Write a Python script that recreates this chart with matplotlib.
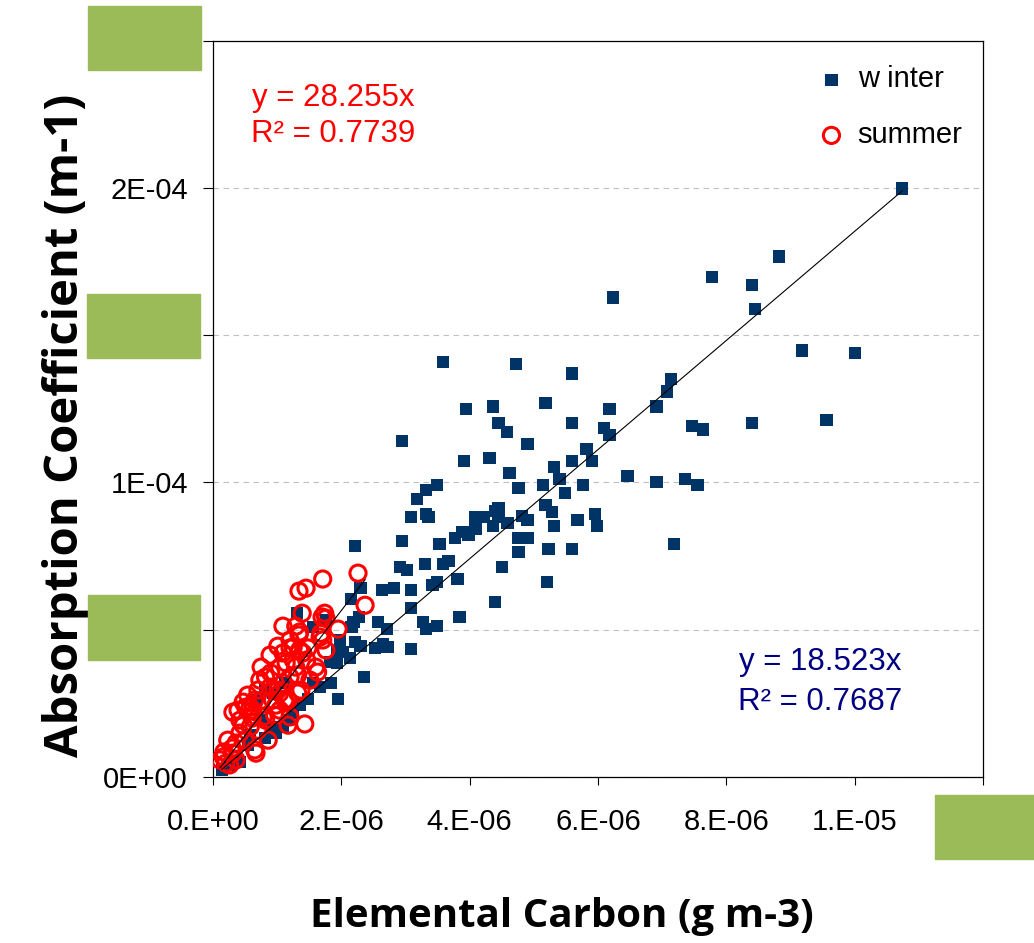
import numpy as np
import matplotlib
matplotlib.use("Agg")
import matplotlib.pyplot as plt
from matplotlib.patches import Rectangle

# values, in units of 1e-6 (x: g m-3, y: m-1)
winter_ec = [10.74, 8.82, 7.78, 8.40, 8.45, 6.23, 9.18, 10.01, 7.14, 7.08,
             6.91, 6.18, 6.09, 6.18, 7.46, 7.64, 8.40, 9.56, 6.46, 6.91,
             7.36, 7.55, 7.18, 3.58, 4.72, 5.59, 3.94, 4.36, 5.18, 4.45,
             4.58, 5.59, 4.90, 5.82, 2.94, 3.91, 4.31, 4.62, 5.31, 5.59,
             5.91, 5.40, 4.76, 5.14, 5.77, 3.49, 3.32, 3.18, 5.49, 3.08,
             3.32, 3.36, 5.18, 5.28, 4.45, 4.40, 4.08, 4.22, 4.45, 4.81,
             4.90, 4.59, 4.36, 4.09, 3.89, 3.98, 3.77, 5.95, 5.68, 5.31,
             5.99, 2.94, 3.53, 4.76, 4.90, 5.23, 5.59, 4.76, 3.30, 3.58,
             3.67, 3.02, 2.91, 4.50, 3.81, 3.49, 3.42, 3.08, 5.21, 4.40,
             3.08, 2.21, 2.63, 2.82, 2.30, 2.15, 2.27, 2.19, 2.57, 2.71,
             2.16, 3.27, 3.32, 3.49, 3.84, 2.21, 2.30, 2.52, 2.65, 2.72,
             3.08, 1.93, 2.02, 2.13, 1.82, 1.93, 2.35, 1.31, 1.56, 1.56,
             1.67, 1.84, 1.95, 1.48, 0.82, 0.93, 1.17, 1.09, 0.98, 0.93,
             1.12, 1.25, 0.67, 0.81, 0.42, 0.26, 0.54, 1.35, 1.76, 1.98,
             0.76, 0.58, 0.14]
winter_abs = [199.8, 176.7, 169.6, 166.9, 158.8, 162.8, 144.8, 143.8, 135.0, 130.9,
              125.8, 124.8, 118.4, 116.0, 119.1, 118.0, 120.1, 121.1, 102.1, 100.1,
              101.1, 99.1, 79.0, 140.8, 140.1, 137.0, 124.8, 125.8, 126.9, 120.1,
              117.0, 120.1, 113.0, 111.3, 114.0, 107.2, 108.2, 103.1, 105.2, 107.2,
              107.2, 101.1, 98.0, 99.1, 99.1, 99.1, 97.4, 94.3, 96.3, 88.2,
              89.2, 88.2, 92.3, 89.9, 91.2, 90.2, 88.2, 88.2, 88.2, 88.5,
              87.2, 86.2, 85.1, 84.1, 83.1, 82.1, 81.1, 89.2, 87.2, 85.1,
              85.1, 80.1, 79.0, 81.1, 81.1, 77.3, 77.3, 76.3, 72.3, 72.3,
              73.3, 70.2, 71.2, 71.2, 67.2, 66.1, 65.1, 63.4, 66.1, 59.4,
              57.3, 78.4, 63.4, 64.1, 64.1, 60.4, 54.3, 52.6, 52.6, 50.2,
              50.9, 52.6, 50.2, 51.2, 54.3, 45.8, 44.4, 43.8, 45.1, 44.1,
              43.4, 42.4, 42.4, 40.4, 39.0, 38.7, 33.9, 55.6, 50.9, 31.9,
              30.5, 31.9, 26.5, 26.5, 29.5, 28.5, 19.3, 17.0, 14.9, 17.0,
              31.9, 21.7, 26.1, 13.2, 5.1, 4.1, 10.9, 24.4, 53.3, 46.5,
              19.3, 14.2, 2.4]

summer_ec = [2.26, 1.71, 1.34, 1.45, 2.37, 1.39, 1.74, 1.70, 1.76, 1.09,
             1.29, 1.35, 1.34, 1.95, 1.67, 1.71, 1.01, 1.20, 1.48, 1.76,
             0.75, 0.90, 1.04, 1.60, 1.63, 0.47, 0.58, 0.31, 1.32, 1.20,
             1.43, 1.17, 0.67, 0.26, 0.11, 1.68, 1.25, 0.82, 1.14, 1.25,
             1.37, 0.51, 0.39, 0.62, 0.58, 0.42, 0.65, 0.31, 0.16, 0.20,
             0.36, 0.78, 0.93, 1.04, 1.09, 0.89, 1.20, 1.29, 1.09, 1.35,
             1.20, 1.40, 0.89, 0.76, 0.70, 0.54, 0.98, 1.12, 0.82, 0.70,
             0.50, 0.30, 0.96, 0.47, 0.23, 0.61, 1.04, 0.86, 1.51, 0.42,
             0.17, 0.36, 1.01, 1.32, 1.46, 1.17, 0.73, 0.65]
summer_abs = [69.2, 67.2, 63.1, 64.1, 58.3, 55.6, 55.6, 54.3, 53.9, 51.2,
              51.2, 49.2, 48.2, 50.2, 47.5, 46.5, 44.4, 43.8, 43.8, 43.1,
              37.3, 35.3, 37.3, 37.3, 35.6, 25.4, 23.7, 22.0, 28.5, 20.4,
              18.0, 17.6, 8.1, 4.1, 5.8, 48.8, 44.1, 33.9, 38.7, 39.7,
              29.5, 23.7, 22.7, 22.7, 17.0, 14.9, 9.2, 8.1, 6.8, 4.7,
              11.5, 20.4, 26.1, 28.5, 31.9, 30.5, 33.9, 37.3, 42.1, 43.1,
              46.5, 42.1, 41.4, 26.1, 29.5, 27.8, 24.4, 26.1, 19.3, 15.9,
              12.5, 9.8, 21.0, 17.6, 12.5, 20.0, 22.7, 12.5, 32.9, 19.3,
              8.5, 5.8, 29.5, 34.6, 39.7, 26.1, 32.9, 26.1]

winter_slope = 18.523
summer_slope = 28.255

x_ticks = [0, 2e-6, 4e-6, 6e-6, 8e-6, 1e-5, 1.2e-5]
x_labels = ["0.E+00", "2.E-06", "4.E-06", "6.E-06", "8.E-06", "1.E-05", ""]
y_ticks = [0, 5e-5, 1e-4, 1.5e-4, 2e-4, 2.5e-4]
y_labels = ["0E+00", "", "1E-04", "", "2E-04", ""]

wx = np.array(winter_ec) * 1e-6
wy = np.array(winter_abs) * 1e-6
sx = np.array(summer_ec) * 1e-6
sy = np.array(summer_abs) * 1e-6

W, H = 1034, 943
fig = plt.figure(figsize=(W / 100, H / 100), dpi=100)
ax = fig.add_axes([213 / W, 1 - 777 / H, 770 / W, 736.5 / H])

ax.scatter(wx, wy, marker="s", s=78, color="#003366", edgecolors="none",
           label="w inter", zorder=3)
ax.scatter(sx, sy, marker="o", s=135, facecolors="none", edgecolors="#FF0000",
           linewidths=2.2, label="summer", zorder=4)

# trendlines through origin
lx = np.array([wx.min(), wx.max()])
ax.plot(lx, winter_slope * lx, color="black", lw=0.8, zorder=5)
lx = np.array([sx.min(), sx.max()])
ax.plot(lx, summer_slope * lx, color="black", lw=0.8, zorder=5)

ax.set_xlim(0, 1.2e-5)
ax.set_ylim(0, 2.5e-4)
ax.set_xticks(x_ticks)
ax.set_xticklabels(x_labels)
ax.set_yticks(y_ticks)
ax.set_yticklabels(y_labels)
ax.tick_params(axis="x", direction="out", length=6, width=0.8, pad=16,
               labelsize=21, colors="black")
ax.tick_params(axis="y", direction="out", length=7, width=0.8, pad=11,
               labelsize=21, colors="black")
for lab in ax.get_xticklabels() + ax.get_yticklabels():
    lab.set_family("Liberation Sans")
ax.yaxis.grid(True, color="#C0C0C0", linestyle=(0, (5, 4)), lw=0.8)
ax.set_axisbelow(True)
for sp in ax.spines.values():
    sp.set_linewidth(0.9)

ax.set_xlabel("Elemental Carbon (g m-3)", fontsize=29, fontweight="bold",
              family="Open Sans", labelpad=44)
ax.set_ylabel("Absorption Coefficient (m-1)", fontsize=34, fontweight="bold",
              family="Open Sans", labelpad=10)
ax.xaxis.label.set_x(0.453)
ax.yaxis.label.set_y(0.478)

ax.text(0.156, 0.922, "y = 28.255x", transform=ax.transAxes, color="#FF0000",
        fontsize=22.5, family="Liberation Sans", ha="center", va="center")
ax.text(0.156, 0.873, "R² = 0.7739", transform=ax.transAxes, color="#FF0000",
        fontsize=22.5, family="Liberation Sans", ha="center", va="center")
ax.text(0.788, 0.156, "y = 18.523x", transform=ax.transAxes, color="#000080",
        fontsize=22.5, family="Liberation Sans", ha="center", va="center")
ax.text(0.788, 0.102, "R² = 0.7687", transform=ax.transAxes, color="#000080",
        fontsize=22.5, family="Liberation Sans", ha="center", va="center")

ax.legend(loc="upper right", bbox_to_anchor=(1.0, 0.994), frameon=False,
          prop={"family": "Liberation Sans", "size": 21}, handlelength=1.0,
          handletextpad=0.4, labelspacing=0.95, borderaxespad=0.3)

# green boxes sitting over the picture
for x0, y0, x1, y1 in [(88, 6, 201, 70), (87, 294, 200, 358),
                       (88, 595, 200, 660), (935, 795, 1034, 859)]:
    fig.patches.append(Rectangle((x0 / W, 1 - y1 / H), (x1 - x0) / W, (y1 - y0) / H,
                                 transform=fig.transFigure, color="#9BBB59",
                                 zorder=10))

fig.savefig("out.png", dpi=100)
